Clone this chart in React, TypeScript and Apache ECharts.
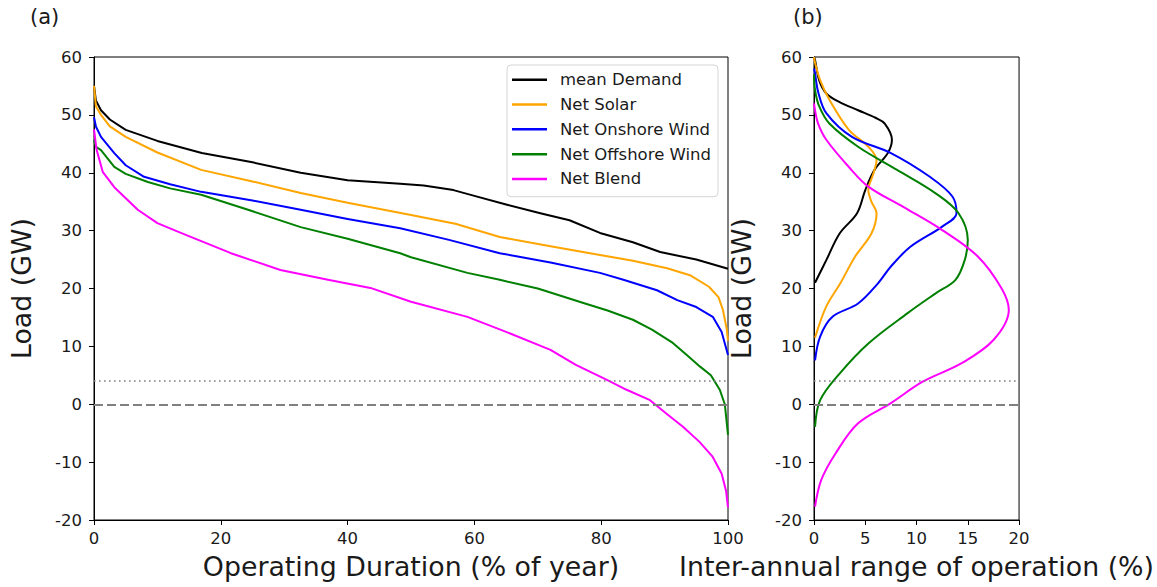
import React, { useEffect, useRef } from "react";
import * as echarts from "echarts";

// ---- Panel (a): load duration curves (x = % of year, y = load GW) ----
const demandX = [0, 0.3, 1.1, 2.5, 5, 10, 17, 25, 32.6, 40, 48.3, 52, 56.7, 60, 65, 70.4, 75, 79.8, 85, 89.3, 95, 100];
const demandY = [55, 52.5, 50.8, 49.2, 47.4, 45.5, 43.4, 41.8, 40, 38.7, 38.1, 37.8, 37.0, 36, 34.5, 33.0, 31.8, 29.6, 28, 26.3, 25, 23.4];

const solarX = [0, 0.3, 1.1, 2.5, 5, 10, 16.9, 25, 32.6, 40, 50, 57, 64, 72, 79.8, 85, 90.4, 94, 97, 98.5, 99.2, 99.8, 100];
const solarY = [55, 51.5, 50, 48, 46.2, 43.5, 40.5, 38.5, 36.5, 34.8, 32.7, 31.2, 28.9, 27.3, 25.8, 24.8, 23.5, 22.3, 20.3, 18.5, 16.3, 13, 11];

const onshoreX = [0, 0.3, 1.1, 3.2, 5, 7.9, 12, 16.9, 25, 32.6, 40, 48.3, 56, 64, 72, 79.8, 83.5, 88.8, 92, 95, 97.6, 99, 100];
const onshoreY = [49.6, 48, 46.2, 43.4, 41.3, 39.3, 38, 36.7, 35.2, 33.6, 32, 30.4, 28.4, 26.1, 24.5, 22.7, 21.5, 19.7, 18, 16.8, 15.1, 12.5, 8.5];

const offshoreX = [0, 0.3, 1.1, 3.2, 5, 8.5, 12, 16.9, 24.3, 32.6, 40, 48.3, 50, 58.9, 64, 70, 77.2, 81, 85, 88, 91.3, 93.5, 95.6, 97.3, 98.7, 99.5, 100];
const offshoreY = [45.7, 44.5, 43.9, 41, 39.8, 38.4, 37.3, 36.2, 33.6, 30.6, 28.6, 26.1, 25.4, 22.7, 21.5, 20, 17.5, 16.2, 14.6, 12.9, 10.6, 8.5, 6.5, 5, 2.5, 0, -5.3];

const blendX = [0, 0.4, 1.4, 3.2, 6.9, 10, 13.7, 21.6, 29.4, 36.9, 43.6, 50, 58.9, 65, 72, 76, 80.9, 84, 87.7, 90.5, 92.9, 95.5, 97.6, 99, 99.7, 100];
const blendY = [47.5, 44, 40.1, 37.5, 33.6, 31.3, 29.6, 26.1, 23.2, 21.5, 20.1, 17.7, 15.1, 12.5, 9.4, 6.8, 4.2, 2.5, 0.7, -1.8, -3.9, -6.5, -9.1, -12, -15, -17.8];

// ---- Panel (b): inter-annual range of operation (x = %, y = load GW) ----
const demandKdeX = [0, 0.1, 0.5, 1.2, 2.5, 4.3, 6.0, 6.9, 7.6, 7.2, 5.9, 5.0, 4.2, 2.5, 1.2, 0.1];
const demandKdeY = [60, 59.5, 56, 53.7, 52.2, 50.8, 49.5, 48.5, 45.7, 43.4, 40.5, 37.0, 33.0, 29.5, 24.9, 21];

const solarKdeX = [0, 0.1, 0.6, 1.5, 3.4, 5.3, 6.1, 5.8, 5.3, 5.6, 6.1, 5.6, 4.0, 2.6, 1.2, 0.1];
const solarKdeY = [60, 59, 56, 52.6, 47.4, 44.5, 42.2, 39.9, 37.0, 35, 33.0, 29.5, 25.5, 21, 16.9, 11.5];

const onshoreKdeX = [0, 0.1, 0.4, 1.2, 3.7, 7.5, 11.3, 13.5, 13.9, 12.5, 9.4, 7.5, 6.2, 4.3, 1.8, 0.6, 0.1];
const onshoreKdeY = [58, 57.2, 54, 50.3, 46.2, 43.4, 39.3, 35.9, 33.0, 30.7, 27.2, 23.8, 20.8, 17.4, 15.1, 11.7, 7.6];

const offshoreKdeX = [0, 0.1, 0.5, 1.5, 4.3, 8.1, 11.9, 14.1, 15.0, 14.7, 13.8, 11.9, 9.1, 5.3, 2.5, 0.6, 0.1];
const offshoreKdeY = [57, 54.3, 51.5, 48.5, 44.5, 40.5, 36.4, 33.0, 28.4, 24.9, 21.5, 19.2, 15.7, 10.5, 5.3, 0.7, -3.9];

const blendKdeX = [0, 0.1, 0.4, 1.2, 3.4, 5.3, 8.7, 12.5, 16.0, 18.3, 19.0, 17.5, 14.4, 10.6, 7.5, 4.3, 2.1, 0.7, 0.1];
const blendKdeY = [52, 50.8, 48.5, 45.7, 41.0, 37.6, 34.1, 30.1, 25.5, 20.0, 16.3, 11.1, 7.1, 3.9, 0.2, -3.3, -8.5, -13.1, -17.7];

const seriesNames = ["mean Demand", "Net Solar", "Net Onshore Wind", "Net Offshore Wind", "Net Blend"];
const seriesColors = ["#000000", "#FFA500", "#0000FF", "#008000", "#FF00FF"];

const durationXs = [demandX, solarX, onshoreX, offshoreX, blendX];
const durationYs = [demandY, solarY, onshoreY, offshoreY, blendY];
const kdeXs = [demandKdeX, solarKdeX, onshoreKdeX, offshoreKdeX, blendKdeX];
const kdeYs = [demandKdeY, solarKdeY, onshoreKdeY, offshoreKdeY, blendKdeY];

const refLines = [0, 4]; // dashed at 0, dotted at 4

const zip = (xs: number[], ys: number[]) => xs.map((x, i) => [x, ys[i]]);

const FONT = "DejaVu Sans";
const TXT = "#1a1a1a";

export default function App() {
  const ref = useRef<HTMLDivElement>(null);
  useEffect(() => {
    if (!ref.current) return;
    const chart = echarts.init(ref.current, undefined, { renderer: "svg" });

    const markLine = {
      silent: true,
      symbol: ["none", "none"],
      label: { show: false },
      emphasis: { disabled: true },
      data: [
        { yAxis: refLines[0], lineStyle: { color: "#808080", width: 2, type: [9, 4] } },
        { yAxis: refLines[1], lineStyle: { color: "#808080", width: 1.6, type: [1.6, 3.4] } },
      ],
    };

    const series: any[] = [];
    seriesNames.forEach((name, i) => {
      series.push({
        name,
        type: "line",
        xAxisIndex: 0,
        yAxisIndex: 0,
        data: zip(durationXs[i], durationYs[i]),
        showSymbol: false,
        symbol: "none",
        smooth: false,
        lineStyle: { color: seriesColors[i], width: 2, join: "round" },
        itemStyle: { color: seriesColors[i] },
        z: 3,
        ...(i === 0 ? { markLine } : {}),
      });
    });
    seriesNames.forEach((name, i) => {
      series.push({
        name,
        type: "line",
        xAxisIndex: 1,
        yAxisIndex: 1,
        data: zip(kdeXs[i], kdeYs[i]),
        showSymbol: false,
        symbol: "none",
        smooth: 0.35,
        lineStyle: { color: seriesColors[i], width: 2 },
        itemStyle: { color: seriesColors[i] },
        z: 3,
        ...(i === 0 ? { markLine } : {}),
      });
    });

    const axisCommon = {
      type: "value" as const,
      axisLine: { show: true, onZero: false, lineStyle: { color: "#000", width: 1 } },
      axisTick: { show: true, inside: false, length: 5, lineStyle: { color: "#000", width: 1 } },
      splitLine: { show: false },
      axisLabel: { color: TXT, fontSize: 16.5, fontFamily: FONT, margin: 10 },
      nameTextStyle: { color: TXT, fontSize: 26.8, fontFamily: FONT },
      nameLocation: "middle" as const,
    };

    const option: any = {
      animation: false,
      backgroundColor: "#fff",
      textStyle: { fontFamily: FONT },
      grid: [
        { left: 93, top: 57, width: 635, height: 463, show: true, borderColor: "#000", borderWidth: 1, backgroundColor: "transparent" },
        { left: 814, top: 57, width: 212, height: 463, show: true, borderColor: "#000", borderWidth: 1, backgroundColor: "transparent" },
      ],
      xAxis: [
        { ...axisCommon, gridIndex: 0, min: 0, max: 100, interval: 20, name: "Operating Duration (% of year)", nameGap: 33 },
        { ...axisCommon, gridIndex: 1, min: 0, max: 20, interval: 5, name: "Inter-annual range of operation (%)", nameGap: 33 },
      ],
      yAxis: [
        { ...axisCommon, gridIndex: 0, min: -20, max: 60, interval: 10, name: "Load (GW)", nameGap: 59, axisLabel: { ...axisCommon.axisLabel, margin: 12 } },
        { ...axisCommon, gridIndex: 1, min: -20, max: 60, interval: 10, name: "Load (GW)", nameGap: 59, axisLabel: { ...axisCommon.axisLabel, margin: 12 } },
      ],
      legend: {
        show: true,
        orient: "vertical",
        left: 507,
        top: 65,
        data: seriesNames,
        icon: "rect",
        itemWidth: 35,
        itemHeight: 2.5,
        itemGap: 5.3,
        padding: [5, 7, 8, 5],
        backgroundColor: "rgba(255,255,255,0.8)",
        borderColor: "#d5d5d5",
        borderWidth: 1,
        borderRadius: 4,
        selectedMode: false,
        textStyle: { color: TXT, fontSize: 16.5, fontFamily: FONT, lineHeight: 19.5, padding: [0, 0, 0, 8] },
      },
      graphic: [
        { type: "text", left: 30, top: 6, style: { text: "(a)", fontSize: 21, fontFamily: FONT, fill: TXT } },
        { type: "text", left: 793, top: 6, style: { text: "(b)", fontSize: 21, fontFamily: FONT, fill: TXT } },
      ],
      series,
    };

    chart.setOption(option);
    return () => chart.dispose();
  }, []);

  return (
    <div
      ref={ref}
      style={{ position: "absolute", left: 0, top: 0, width: 1157, height: 587, overflow: "hidden" }}
    />
  );
}
